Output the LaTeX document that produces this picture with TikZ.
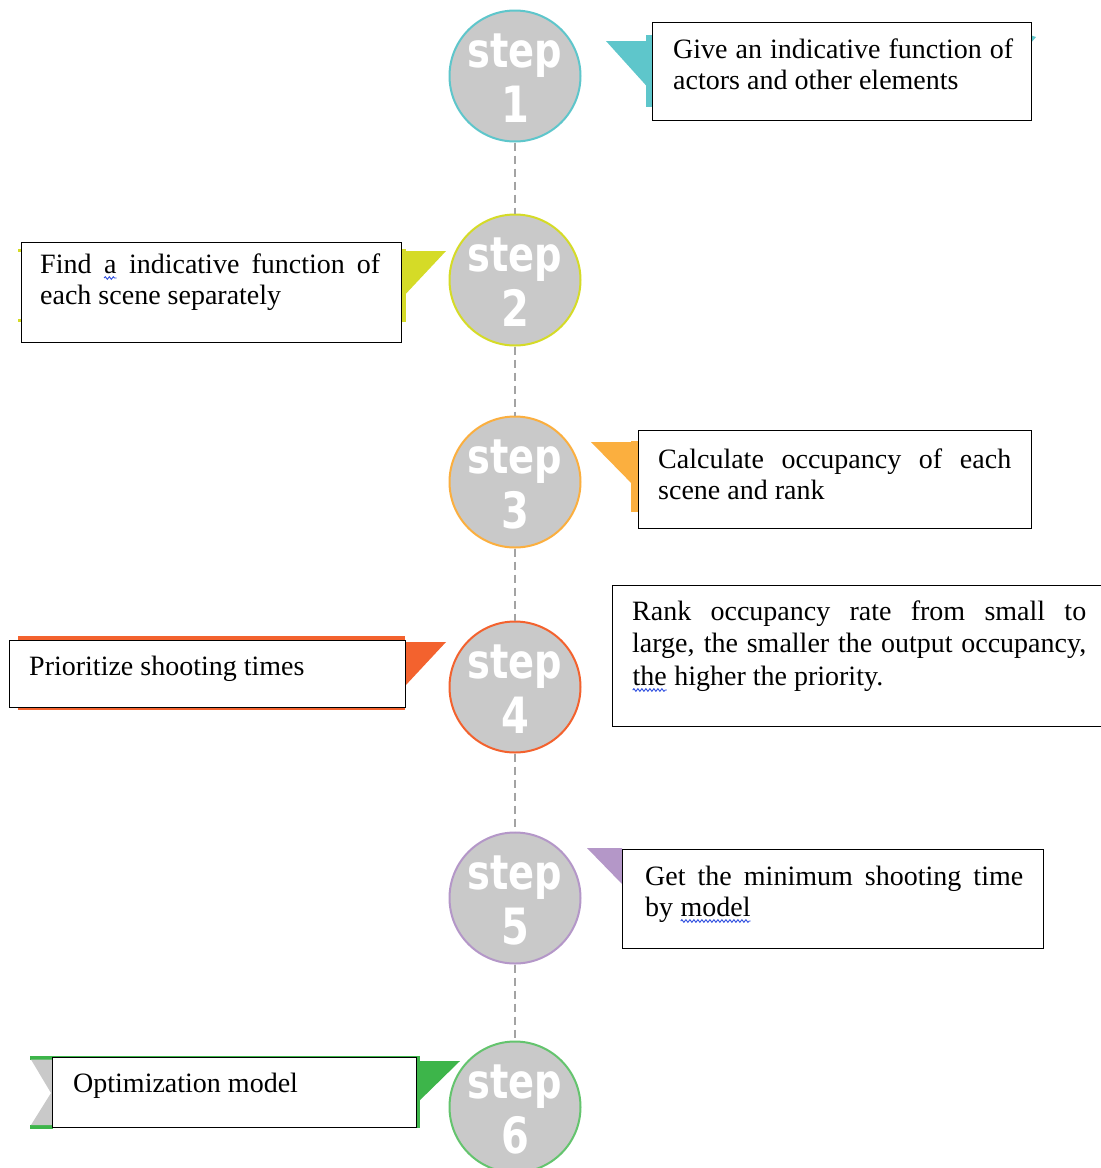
\documentclass[tikz,border=0pt]{standalone}
\usepackage{fontspec}
\setmainfont{Liberation Serif}
\newfontfamily\stepfont{DejaVu Sans}[FakeStretch=0.8]
\usetikzlibrary{decorations.pathmorphing}
\definecolor{wavyblue}{HTML}{2F4FE0}
\definecolor{cA}{HTML}{5EC6CB}
\definecolor{cB}{HTML}{D5DB27}
\definecolor{cC}{HTML}{FBAF3F}
\definecolor{cD}{HTML}{F3622E}
\definecolor{cE}{HTML}{B497C8}
\definecolor{cF}{HTML}{3DB54A}
\definecolor{stepgray}{HTML}{C9C9C9}
\definecolor{dashgray}{HTML}{A3A3A3}
\tikzset{
  stepcirc/.style={circle, fill=stepgray, line width=2pt, minimum size=131pt, inner sep=0pt},
  stepword/.style={font=\stepfont\bfseries\fontsize{48}{48}\selectfont, text=white, inner sep=0pt, anchor=base},
  stepnum/.style={font=\stepfont\bfseries\fontsize{50}{50}\selectfont, text=white, inner sep=0pt, anchor=base},
  txtbox/.style={draw=black, fill=white, line width=1.3pt, anchor=north west, inner sep=0pt},
  btext/.style={anchor=base west, inner sep=0pt, font=\fontsize{28}{31}\selectfont},
  dashline/.style={draw=dashgray, line width=1.6pt, dash pattern=on 8pt off 5pt},
  wave/.style={draw=wavyblue, line width=0.9pt, decorate, decoration={snake, amplitude=1.3pt, segment length=4pt}},
}
\newcommand\spellwave[1]{\tikz[baseline=(sw.base), x=1pt, y=1pt]{\node[inner sep=0pt, outer sep=0pt, anchor=base] (sw) {#1}; \draw[wave] ([yshift=-5pt]sw.base west) -- ([yshift=-5pt]sw.base east);}}
\newcommand\jbox[2]{\parbox[t]{#1pt}{\hyphenpenalty=10000\exhyphenpenalty=10000 #2}}
\begin{document}
\begin{tikzpicture}[x=1pt,y=-1pt]
\fill[white] (0,0) rectangle (1101,1168);
\useasboundingbox (0,0) rectangle (1101,1168);

% ---- flags (bands and folds) ----
\fill[cA] (646,35) rectangle (1031,107);
\fill[cA] (1030,35) -- (1036,37) -- (1030,44) -- cycle;
\fill[cA] (606,41) -- (652,41) -- (652,92) -- cycle;
\fill[cB] (21,249) rectangle (406,322);
\fill[cB] (18,249) rectangle (22,252);
\fill[cB] (18,319) rectangle (22,322);
\fill[cB] (401,251) -- (446,251) -- (401,299) -- cycle;
\fill[cC] (631,441) rectangle (1030,512);
\fill[cC] (591,442) -- (638,442) -- (638,490) -- cycle;
\fill[cD] (18,636) rectangle (405,710);
\fill[cD] (405,642) -- (446,642) -- (405,686) -- cycle;
\fill[cE] (587,848) -- (622,848) -- (622,884) -- cycle;
\fill[cF] (52,1056) rectangle (420,1128);
\fill[cF] (416,1061) -- (460,1061) -- (416,1104) -- cycle;
\fill[cF] (30,1056) rectangle (53,1059.5);
\fill[cF] (30,1125) rectangle (53,1128.5);
\fill[stepgray] (31,1059.5) -- (53,1059.5) -- (53,1125) -- (31,1125) -- (51,1093) -- cycle;

% ---- text boxes ----
\node[txtbox, minimum width=379pt, minimum height=98pt] (b1) at (652,22) {};
\node[txtbox, minimum width=380pt, minimum height=100pt] (b2) at (21,242) {};
\node[txtbox, minimum width=393pt, minimum height=98pt] (b3) at (638,430) {};
\node[txtbox, minimum width=396pt, minimum height=67pt] (b4l) at (9,640) {};
\node[txtbox, minimum width=500pt, minimum height=141pt] (b4r) at (612,585) {};
\node[txtbox, minimum width=421pt, minimum height=99pt] (b5) at (622,849) {};
\node[txtbox, minimum width=364pt, minimum height=70pt] (b6) at (52,1057) {};

\node[btext] (t1) at (673,58) {\jbox{340}{Give an indicative function of\linebreak actors and other elements}};
\node[btext] (t2) at (40,273) {\jbox{340}{Find \spellwave{a} indicative function of\linebreak each scene separately}};
\node[btext] (t3) at (658,468) {\jbox{353}{Calculate occupancy of each\linebreak scene and rank}};
\node[btext] (t4l) at (29,675) {Prioritize shooting times};
\node[btext, font=\fontsize{28}{32.5}\selectfont] (t4r) at (632,620) {\jbox{454}{Rank occupancy rate from small to\linebreak large, the smaller the output occupancy,\linebreak \spellwave{the} higher the priority.}};
\node[btext] (t5) at (645,885) {\jbox{378}{Get the minimum shooting time\linebreak by \spellwave{model}}};
\node[btext] (t6) at (73,1092) {Optimization model};

% ---- step circles ----
\node[stepcirc, draw=cA] (s1) at (515,76) {};
\node[stepcirc, draw=cB] (s2) at (515,280) {};
\node[stepcirc, draw=cC] (s3) at (515,482) {};
\node[stepcirc, draw=cD] (s4) at (515,687) {};
\node[stepcirc, draw=cE] (s5) at (515,898) {};
\node[stepcirc, draw=cF!80!white] (s6) at (515,1107) {};

\draw[dashline] (s1) -- (s2);
\draw[dashline] (s2) -- (s3);
\draw[dashline] (s3) -- (s4);
\draw[dashline] (s4) -- (s5);
\draw[dashline] (s5) -- (s6);

\node[stepword] (w1) at (515,67) {step};
\node[stepnum] (n1) at (515,122) {1};
\node[stepword] (w2) at (515,271) {step};
\node[stepnum] (n2) at (515,326) {2};
\node[stepword] (w3) at (515,473) {step};
\node[stepnum] (n3) at (515,528) {3};
\node[stepword] (w4) at (515,678) {step};
\node[stepnum] (n4) at (515,733) {4};
\node[stepword] (w5) at (515,889) {step};
\node[stepnum] (n5) at (515,944) {5};
\node[stepword] (w6) at (515,1098) {step};
\node[stepnum] (n6) at (515,1153) {6};
\end{tikzpicture}
\end{document}
